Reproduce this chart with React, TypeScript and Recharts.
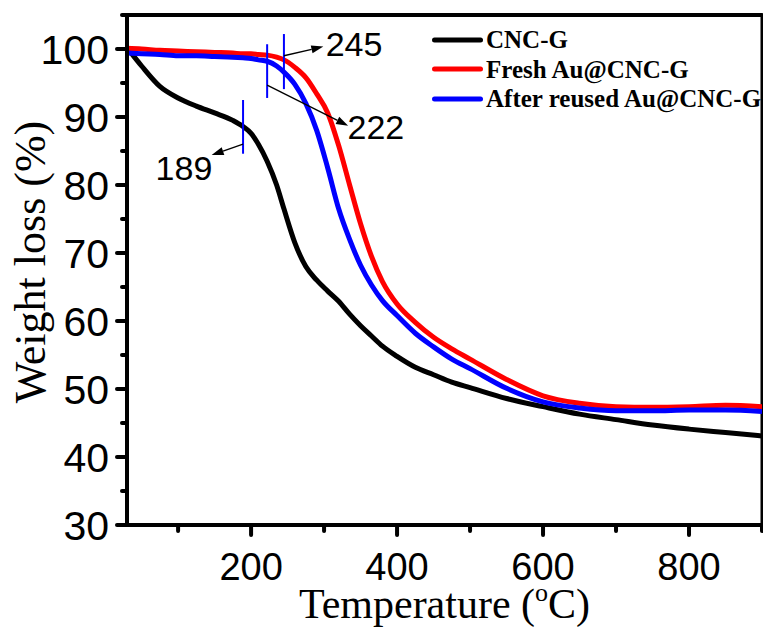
import React from 'react';
import { LineChart, Line, XAxis, YAxis, Legend, ReferenceLine, ReferenceDot } from 'recharts';

// TGA curves
const temperature = [30, 50, 75, 100, 125, 150, 175, 189, 200, 210, 222, 235, 245, 260, 275, 290, 305, 320, 335, 350, 365, 380, 400, 425, 450, 475, 500, 550, 600, 650, 700, 750, 800, 850, 900];
const cncG = [100.2, 97.5, 94.5, 92.8, 91.6, 90.6, 89.5, 88.6, 87.6, 86.0, 83.5, 80.0, 76.5, 71.5, 68.0, 66.0, 64.4, 62.9, 61.0, 59.3, 57.8, 56.3, 54.8, 53.2, 52.1, 51.0, 50.2, 48.6, 47.4, 46.3, 45.5, 44.7, 44.1, 43.6, 43.1];
const freshAu = [100.1, 100.0, 99.8, 99.7, 99.6, 99.5, 99.4, 99.3, 99.3, 99.2, 99.1, 98.8, 98.4, 97.3, 95.8, 93.4, 90.6, 85.8, 80.0, 74.3, 69.5, 65.8, 62.5, 59.8, 57.6, 55.9, 54.4, 51.4, 49.0, 47.9, 47.4, 47.3, 47.4, 47.6, 47.4];
const reusedAu = [99.4, 99.3, 99.2, 99.0, 99.0, 98.9, 98.8, 98.7, 98.6, 98.4, 98.2, 97.5, 96.6, 94.8, 92.0, 88.0, 82.5, 76.5, 72.0, 68.2, 65.3, 63.0, 60.8, 58.2, 56.2, 54.4, 53.0, 50.1, 48.1, 47.2, 46.8, 46.8, 46.9, 46.9, 46.7];

const seriesKeys = ['cnc', 'fresh', 'reused'];
const seriesNames = ['CNC-G', 'Fresh Au@CNC-G', 'After reused Au@CNC-G'];
const seriesColors = ['#000000', '#ff0000', '#0000ff'];

const xDomain = [30, 900];
const yDomain = [30, 105];
const xTicks = [100, 200, 300, 400, 500, 600, 700, 800, 900];
const yTicks = [30, 35, 40, 45, 50, 55, 60, 65, 70, 75, 80, 85, 90, 95, 100, 105];

// onset markers (vertical blue bars) and their arrows/labels
const markers = [
  { t: 189, from: 84.6, to: 92.5 },
  { t: 222, from: 92.8, to: 100.7 },
  { t: 245, from: 94.1, to: 102.2 },
];
const arrows = [
  { label: '189', start: [189, 86.0], end: [146, 84.4], text: [108, 82.5] },
  { label: '222', start: [222, 94.7], end: [333, 88.7], text: [371, 88.5] },
  { label: '245', start: [245, 99.0], end: [299, 100.35], text: [341, 100.7] },
];

const rows = temperature.map((t, i) => ({ t, cnc: cncG[i], fresh: freshAu[i], reused: reusedAu[i] }));

const SANS = "'Liberation Sans', Arial, sans-serif";
const SERIF = "'Liberation Serif', 'Times New Roman', serif";

const XTick = (props: any) => {
  const { x, y, payload } = props;
  const major = payload.value % 200 === 0;
  return (
    <g>
      <line x1={x} y1={y} x2={x} y2={y + (major ? 10 : 6)} stroke="#000" strokeWidth={4} strokeLinecap="round" />
      {major && (
        <text x={x} y={y + 55} textAnchor="middle" fontFamily={SANS} fontSize={38} fill="#000">
          {payload.value}
        </text>
      )}
    </g>
  );
};

const YTick = (props: any) => {
  const { x, y, payload } = props;
  const major = payload.value % 10 === 0;
  return (
    <g>
      <line x1={x} y1={y} x2={x - (major ? 10 : 5)} y2={y} stroke="#000" strokeWidth={4} strokeLinecap="round" />
      {major && (
        <text x={x - 18} y={y} dy="0.36em" textAnchor="end" fontFamily={SANS} fontSize={41} fill="#000">
          {payload.value}
        </text>
      )}
    </g>
  );
};

const XTitle = (props: any) => {
  const vb = props.viewBox;
  return (
    <text x={vb.x + vb.width / 2} y={vb.y + 93} textAnchor="middle" fontFamily={SERIF} fontSize={42} fill="#000">
      Temperature (<tspan fontSize={26} dy={-17}>o</tspan><tspan dy={17}>C)</tspan>
    </text>
  );
};

const YTitle = (props: any) => {
  const vb = props.viewBox;
  const cx = 45;
  const cy = vb.y + vb.height / 2 - 8;
  return (
    <text x={cx} y={cy} transform={`rotate(-90 ${cx} ${cy})`} textAnchor="middle" fontFamily={SERIF} fontSize={44} fill="#000">
      Weight loss (%)
    </text>
  );
};

const ArrowShape = (p: any) => {
  const { x1, y1, x2, y2 } = p;
  const ang = Math.atan2(y2 - y1, x2 - x1);
  const len = 12;
  const half = 4;
  const bx = x2 - len * Math.cos(ang);
  const by = y2 - len * Math.sin(ang);
  const pts = `${x2},${y2} ${bx - half * Math.sin(ang)},${by + half * Math.cos(ang)} ${bx + half * Math.sin(ang)},${by - half * Math.cos(ang)}`;
  return (
    <g>
      <line x1={x1} y1={y1} x2={bx} y2={by} stroke="#000" strokeWidth={1.4} />
      <polygon points={pts} fill="#000" />
    </g>
  );
};

const LegendBox = () => (
  <div>
    {seriesNames.map((name, i) => (
      <div key={name} style={{ display: 'flex', alignItems: 'center', height: 29.5 }}>
        <svg width={56} height={10}>
          <line x1={4.5} y1={5} x2={50.5} y2={5} stroke={seriesColors[i]} strokeWidth={5} strokeLinecap="round" />
        </svg>
        <span style={{ fontFamily: SERIF, fontWeight: 'bold', fontSize: 25, color: '#000', lineHeight: '25px', whiteSpace: 'nowrap' }}>
          {name}
        </span>
      </div>
    ))}
  </div>
);

export default function App() {
  return (
    <div style={{ position: 'absolute', left: 0, top: 0, width: 763, height: 628, background: '#fff' }}>
      <LineChart width={763} height={628} data={rows} margin={{ top: 15, right: 1, bottom: 0, left: 0 }}>
        <XAxis
          dataKey="t"
          type="number"
          domain={xDomain}
          ticks={xTicks}
          interval={0}
          allowDataOverflow
          height={103}
          tickSize={0}
          tickMargin={0}
          tickLine={false}
          tick={<XTick />}
          axisLine={{ stroke: '#000', strokeWidth: 4 }}
          label={<XTitle />}
        />
        <YAxis
          type="number"
          domain={yDomain}
          ticks={yTicks}
          interval={0}
          allowDataOverflow
          width={127}
          tickSize={0}
          tickMargin={0}
          tickLine={false}
          tick={<YTick />}
          axisLine={{ stroke: '#000', strokeWidth: 4 }}
          label={<YTitle />}
        />
        <Legend
          layout="vertical"
          align="center"
          verticalAlign="middle"
          content={<LegendBox />}
          wrapperStyle={{ left: 430, top: 25, width: 333 }}
        />
        {/* plot frame */}
        <ReferenceLine segment={[{ x: xDomain[0], y: yDomain[0] }, { x: xDomain[1], y: yDomain[0] }]} stroke="#000" strokeWidth={4} strokeLinecap="square" ifOverflow="visible" />
        <ReferenceLine segment={[{ x: xDomain[0], y: yDomain[0] }, { x: xDomain[0], y: yDomain[1] }]} stroke="#000" strokeWidth={4} strokeLinecap="square" ifOverflow="visible" />
        <ReferenceLine segment={[{ x: xDomain[0], y: yDomain[1] }, { x: xDomain[1], y: yDomain[1] }]} stroke="#000" strokeWidth={4} strokeLinecap="round" ifOverflow="visible" />
        <ReferenceLine segment={[{ x: xDomain[1], y: yDomain[0] }, { x: xDomain[1], y: yDomain[1] }]} stroke="#000" strokeWidth={3} ifOverflow="visible" />
        {seriesKeys.map((k, i) => (
          <Line
            key={k}
            name={seriesNames[i]}
            dataKey={k}
            type="monotone"
            stroke={seriesColors[i]}
            strokeWidth={5}
            dot={false}
            isAnimationActive={false}
          />
        ))}
        {markers.map((m) => (
          <ReferenceLine
            key={`m-${m.t}`}
            segment={[{ x: m.t, y: m.from }, { x: m.t, y: m.to }]}
            stroke="#0000ff"
            strokeWidth={2}
          />
        ))}
        {arrows.map((a) => (
          <ReferenceLine
            key={`a-${a.label}`}
            segment={[{ x: a.start[0], y: a.start[1] }, { x: a.end[0], y: a.end[1] }]}
            shape={<ArrowShape />}
          />
        ))}
        {arrows.map((a) => (
          <ReferenceDot
            key={`l-${a.label}`}
            x={a.text[0]}
            y={a.text[1]}
            r={0}
            shape={(p: any) => (
              <text x={p.cx} y={p.cy} dy="0.36em" textAnchor="middle" fontFamily={SANS} fontSize={34} fill="#000">
                {a.label}
              </text>
            )}
          />
        ))}
      </LineChart>
    </div>
  );
}
